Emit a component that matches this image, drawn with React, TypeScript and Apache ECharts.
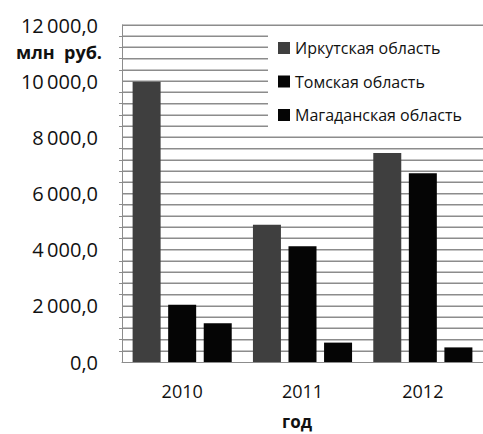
import React, { useEffect, useRef } from "react";
import * as echarts from "echarts";

const years = ["2010", "2011", "2012"];
const irkutsk = [9980, 4890, 7440];
const tomsk = [2040, 4120, 6720];
const magadan = [1380, 690, 520];
const seriesNames = ["Иркутская область", "Томская область", "Магаданская область"];
const gridValues = [400, 800, 1200, 1600, 2000, 2400, 2800, 3200, 3600, 4000, 4400, 4800, 5200, 5600, 6000, 6400, 6800, 7200, 7600, 8000, 8400, 8800, 9200, 9600, 10000, 10400, 10800, 11200, 11600, 12000];
const yTitle = "млн  руб.";
const xTitle = "год";

const FONT = "'Open Sans', 'Noto Sans', sans-serif";
const GRID = "#8c8c8c";
const GRID_LEFT = 122;
const CHART_W = 483;

function fmt(v: number): string {
  const s = Math.round(v).toString();
  const withSp = s.replace(/\B(?=(\d{3})+(?!\d))/g, "\u2009");
  return withSp + ",0";
}

export default function App() {
  const ref = useRef<HTMLDivElement>(null);
  useEffect(() => {
    if (!ref.current) return;
    const chart = echarts.init(ref.current, null, { renderer: "svg" });
    const texts = [
      {
        type: "text",
        right: CHART_W - 102,
        top: 43,
        style: { text: yTitle, fontFamily: FONT, fontSize: 18, fontWeight: "bold", fill: "#111" },
      },
      {
        type: "text",
        left: 282,
        top: 413,
        style: { text: xTitle, fontFamily: FONT, fontSize: 17, fontWeight: "bold", fill: "#111" },
      },
    ];
    chart.setOption({
      animation: false,
      grid: { left: GRID_LEFT, top: 25, right: 0, bottom: 72 },
      legend: {
        orient: "vertical",
        left: 268,
        top: 33,
        padding: [6, 24, 11, 10],
        backgroundColor: "#ffffff",
        itemWidth: 12,
        itemHeight: 12,
        itemGap: 15.5,
        icon: "rect",
        textStyle: { fontFamily: FONT, fontSize: 16, color: "#111", lineHeight: 18 },
        data: seriesNames,
        z: 10,
      },
      xAxis: {
        type: "category",
        data: years,
        axisLine: { lineStyle: { color: GRID, width: 1 } },
        axisTick: { show: false },
        axisLabel: { fontFamily: FONT, fontSize: 18, color: "#111", margin: 20 },
      },
      yAxis: {
        type: "value",
        min: 0,
        max: 12000,
        interval: 2000,
        axisLine: { show: true, lineStyle: { color: GRID } },
        minorTick: { show: true, splitNumber: 5, length: 3, lineStyle: { color: GRID } },
        splitLine: { show: true, lineStyle: { color: GRID } },
        minorSplitLine: { show: true, lineStyle: { color: GRID } },
        axisLabel: {
          fontFamily: FONT,
          fontSize: 20,
          color: "#111",
          margin: 24,
          formatter: (v: number) => fmt(v),
        },
      },
      series: [
        { name: seriesNames[0], type: "bar", z: 3, data: irkutsk, barWidth: 28, barGap: "27%", itemStyle: { color: "#3f3f3f" } },
        { name: seriesNames[1], type: "bar", z: 3, data: tomsk, barWidth: 28, barGap: "27%", itemStyle: { color: "#050505" } },
        { name: seriesNames[2], type: "bar", z: 3, data: magadan, barWidth: 28, barGap: "27%", itemStyle: { color: "#050505" } },
      ],
      graphic: texts,
    });
    const gridRects = gridValues.map((v) => {
      const py = chart.convertToPixel({ yAxisIndex: 0 }, v) as number;
      return {
        type: "rect",
        silent: true,
        z: 1,
        shape: { x: GRID_LEFT, y: Math.round(py) - 0.5, width: CHART_W - GRID_LEFT, height: 1 },
        style: { fill: GRID },
      };
    });
    chart.setOption({ graphic: [...texts, ...gridRects] });
    return () => chart.dispose();
  }, []);
  return <div ref={ref} style={{ width: 483, height: 434, position: "absolute", left: 0, top: 0 }} />;
}
